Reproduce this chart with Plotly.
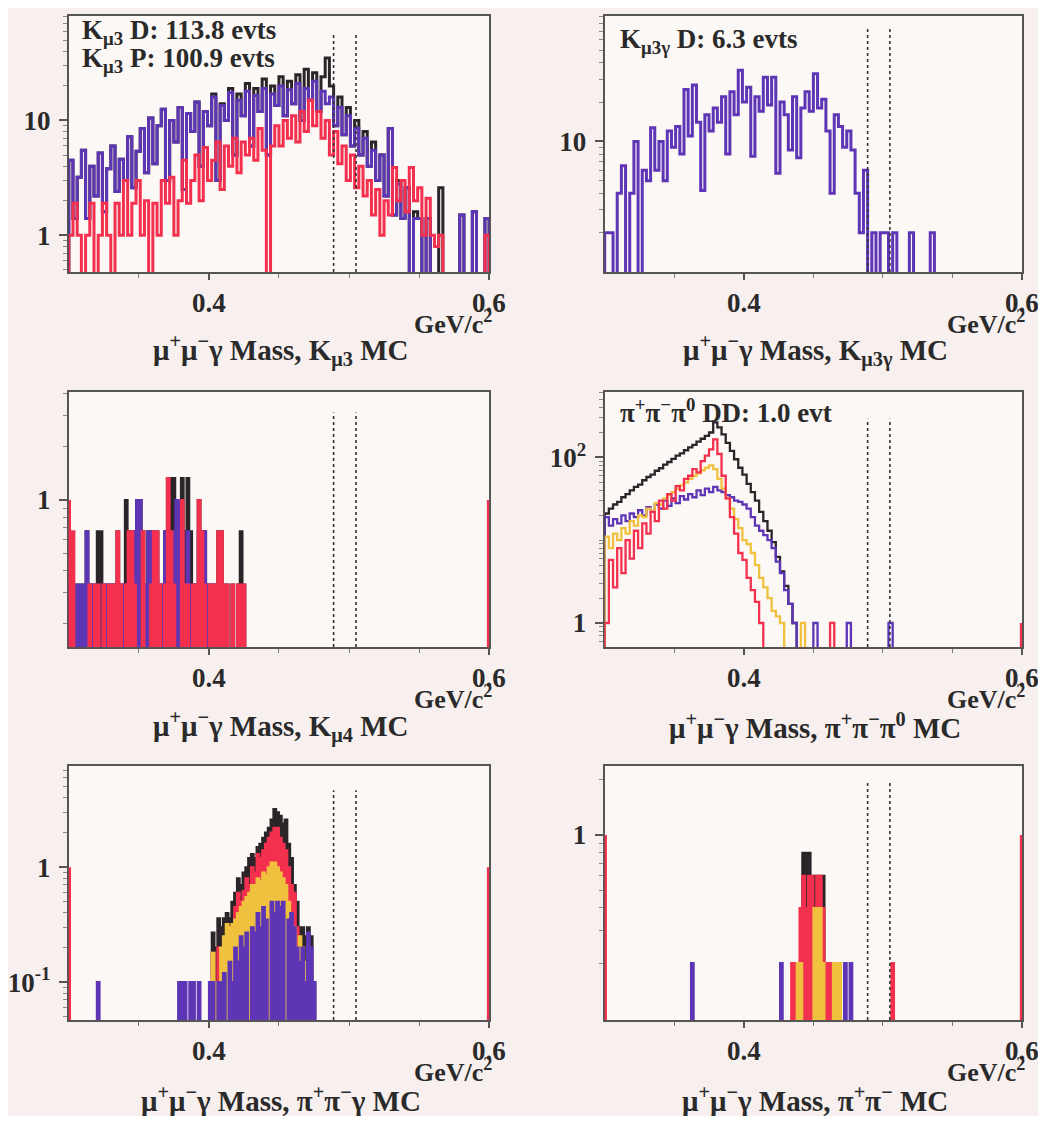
import plotly.graph_objects as go

PAGE_W, PAGE_H = 1046, 1124
BODY_MARGIN = 8                     # default page margin around the figure
W, H = PAGE_W - 2 * BODY_MARGIN, PAGE_H - 2 * BODY_MARGIN
X_LO, X_HI = 0.3, 0.6
FLOOR = 1e-6

C_BLACK = "#2b2428"
C_PURPLE = "#5d35b5"
C_RED = "#f4304f"
C_YELLOW = "#efc13e"
FONT = "Liberation Serif"
TXT = "#2a2a2a"

# ---------------- data ----------------
signal_window = [0.489, 0.505]
x_tick_vals = [0.4, 0.6]
x_tick_text = ["0.4", "0.6"]

# Panel 1 : K_mu3 MC  (bin width 0.003 from 0.300)
p1_width = 0.003
p1_black = [4.5, 1.4, 3.2, 5.5, 1.4, 4.0, 2.2, 5.2, 1.6, 3.8,
            6.0, 2.4, 4.6, 3.0, 7.2, 2.6, 5.4, 8.5, 3.5, 10.5,
            4.2, 9.0, 12.5, 3.0, 10.0, 6.5, 13.0, 2.5, 11.5, 8.0,
            14.5, 4.0, 12.0, 9.0, 17.0, 3.0, 14.0, 10.0, 19.0, 5.0,
            17.0, 11.0, 21.0, 6.0, 19.0, 12.0, 23.0, 5.0, 20.0, 13.5,
            24.0, 11.0, 22.0, 14.0, 25.0, 10.0, 28.0, 15.0, 26.0, 12.0,
            24.0, 35.0, 20.0, 9.0, 16.0, 7.5, 13.0, 6.0, 10.0, 5.0,
            8.0, 4.0, 6.5, 3.0, 5.0, 2.2, 8.5, 1.5, 3.0, 1.4,
            2.6, 0, 1.6, 1.4, 0, 1.4, 0, 0, 2.6, 0,
            0, 0, 0, 1.5, 0, 0, 1.6, 0, 0, 1.4]
p1_purple = [4.5, 1.4, 3.2, 5.5, 1.4, 4.0, 2.2, 5.2, 1.6, 3.8,
             6.0, 2.4, 4.6, 3.0, 7.2, 2.6, 5.4, 8.5, 3.5, 10.5,
             4.2, 9.0, 12.5, 3.0, 10.0, 6.5, 13.0, 2.5, 11.5, 8.0,
             14.5, 4.0, 12.0, 9.0, 16.0, 3.0, 13.5, 10.0, 17.5, 5.0,
             15.0, 11.0, 18.0, 6.0, 16.5, 12.0, 19.0, 5.0, 17.0, 13.5,
             20.0, 11.0, 18.5, 14.0, 21.0, 10.0, 19.0, 15.0, 22.0, 12.0,
             18.0, 14.0, 16.0, 9.0, 13.0, 7.5, 11.0, 6.0, 8.5, 5.0,
             7.0, 4.0, 5.5, 3.0, 5.0, 2.2, 8.5, 1.5, 2.8, 1.4,
             2.6, 0, 1.4, 1.4, 0, 1.4, 0, 0, 0, 0,
             0, 0, 0, 1.5, 0, 0, 1.6, 0, 0, 1.4]
p1_red = [1.0, 1.9, 1.0, 0, 1.0, 1.9, 0, 1.0, 1.9, 1.0,
          0, 1.9, 1.0, 3.0, 1.0, 1.9, 3.0, 1.0, 2.0, 0,
          1.9, 1.0, 3.0, 1.9, 3.2, 1.0, 2.0, 4.5, 1.9, 3.0,
          5.0, 2.0, 5.8, 3.0, 4.5, 6.5, 2.5, 6.0, 4.0, 7.0,
          3.5, 6.5, 5.0, 7.0, 4.5, 8.5, 5.5, 0, 6.0, 9.0,
          6.0, 10.0, 7.0, 11.0, 6.5, 12.0, 8.0, 15.0, 9.0, 12.0,
          7.0, 10.0, 5.0, 8.0, 4.2, 6.0, 3.0, 5.0, 2.6, 4.0,
          2.2, 3.0, 1.5, 2.5, 1.0, 2.0, 1.5, 3.9, 2.0, 3.0,
          1.6, 3.9, 2.0, 2.6, 1.0, 2.1, 1.0, 0.8, 1.0, 0,
          0, 0, 0, 0, 0, 0, 0, 0, 0, 1.0]

# Panel 2 : K_mu3gamma MC (bin width 0.003 from 0.300)
p2_width = 0.003
p2_purple = [2.0, 2.0, 0, 4.0, 6.5, 0, 4.0, 10.0, 0, 6.0,
             5.0, 12.7, 6.0, 10.0, 5.0, 12.0, 9.0, 13.0, 8.0, 25.0,
             11.0, 27.0, 14.0, 4.2, 16.0, 12.0, 18.0, 14.0, 22.0, 8.0,
             24.0, 16.0, 35.0, 20.0, 26.0, 7.7, 22.0, 17.0, 31.0, 19.0,
             31.0, 5.7, 20.0, 16.0, 8.6, 22.0, 7.5, 18.0, 24.0, 17.0,
             33.0, 18.0, 21.0, 12.0, 4.0, 16.0, 13.0, 9.0, 12.0, 8.6,
             4.0, 2.0, 6.0, 0, 2.0, 0, 2.0, 2.0, 0, 2.0,
             0, 0, 0, 2.0, 0, 0, 0, 0, 2.0]

# Panel 3 : K_mu4 MC (bin width 0.002 from 0.300)
p3_width = 0.002
p3_black = [0.333, 0.333, 0.333, 0.333, 0.333, 0.333, 0.667, 0.333, 0.333, 0.333,
            0.667, 0.667, 0.333, 0.333, 0.333, 0.333, 0.333, 0.667, 0.333, 0.333,
            1.0, 0.667, 0.667, 0.667, 1.0, 1.0, 0.667, 0.333, 0.667, 0.667,
            0.667, 0.667, 0.333, 0.333, 0.667, 1.333, 1.333, 1.333, 1.0, 1.0,
            1.333, 0.667, 1.333, 0.667, 0.333, 0.333, 1.0, 0.667, 0.667, 0.333,
            0.333, 0.333, 0.333, 0.667, 0.667, 0.333, 0.333, 0, 0.333, 0,
            0.333, 0.667, 0.333]
p3_purple = [0.333, 0.333, 0.333, 0.333, 0.333, 0.333, 0.667, 0.333, 0.333, 0.333,
             0.333, 0, 0.333, 0.333, 0.333, 0.333, 0.333, 0.333, 0.333, 0.333,
             0.333, 0.333, 0.333, 0.667, 1.0, 1.0, 0.333, 0.333, 0.667, 0.667,
             0.667, 0.333, 0.333, 0.333, 0.667, 0.333, 0.333, 0.667, 1.0, 1.0,
             0.667, 0.333, 0.667, 0.333, 0.333, 0.333, 0.667, 0.667, 0.667, 0.333,
             0.333, 0.333]
p3_red = [0.667, 0.667, 0, 0, 0, 0, 0, 0.333, 0, 0.333,
          0.333, 0, 0.333, 0, 0.333, 0.333, 0.333, 0.667, 0.333, 0,
          0.333, 0.667, 0.667, 0.333, 0, 0, 0.667, 0, 0, 0.333,
          0.667, 0.667, 0.333, 0, 0.333, 1.333, 0.667, 0.333, 0, 0,
          1.0, 0.333, 0.333, 0, 0.333, 0.333, 1.0, 0.667, 0.333, 0,
          0.333, 0.333, 0.333, 0.667, 0.667, 0.333, 0.333, 0, 0.333, 0,
          0.333, 0.333, 0.333]
p3_red_edges = [1.0, 1.0]

# Panel 4 : pi+pi-pi0 MC (bin width 0.003 from 0.300)
p4_width = 0.003
p4_black = [21, 24, 27, 29, 33, 36, 40, 44, 47, 53,
            58, 62, 69, 74, 82, 88, 96, 105, 112, 122,
            132, 142, 155, 168, 182, 200, 265, 230, 190, 150,
            120, 95, 75, 62, 48, 38, 30, 22, 17, 13,
            9.5, 6.3, 4.2, 2.8, 1.7, 1.0]
p4_purple = [19, 15, 18, 16, 20, 17, 21, 19, 23, 20,
             25, 22, 27, 24, 30, 26, 32, 28, 34, 31,
             36, 33, 40, 35, 42, 38, 44, 40, 38, 35,
             33, 30, 29, 27, 24, 19, 15, 13, 11.5, 10,
             8.0, 5.5, 4.0, 2.5, 1.7, 1.0, 0, 0, 0, 0,
             1.0, 0, 0, 0, 0, 0, 0, 0, 1.0, 0,
             0, 0, 0, 0, 0, 0, 0, 0, 1.0]
p4_red = [1.0, 5.8, 2.7, 8.0, 4.0, 10.0, 6.0, 13.0, 8.0, 16.0,
          12.0, 22.0, 17.0, 30.0, 24.0, 36.0, 30.0, 45.0, 40.0, 55.0,
          60.0, 72.0, 66.0, 90.0, 105.0, 125.0, 165.0, 110.0, 60.0, 32.0,
          19.0, 12.0, 7.0, 5.8, 3.5, 2.5, 1.8, 1.0, 0, 0,
          0, 0, 0, 0, 0, 0, 0, 0, 0, 0,
          0, 0, 0, 0, 1.0]
p4_yellow = [11, 8, 12, 10, 14, 12, 17, 15, 20, 19,
             24, 22, 28, 27, 32, 35, 38, 42, 46, 50,
             55, 60, 64, 70, 75, 80, 72, 55, 42, 32,
             24, 18, 14, 10, 9, 7, 5, 3.5, 2.7, 2.0,
             1.4, 1.2, 1.0, 0, 0, 0, 0, 1.0]
p4_red_edges = [0, 1.0]

# Panel 5 : pi+pi-gamma MC (bin width 0.002)
p5_width = 0.002
p5_purple_start = 0.320
p5_purple = [0.1, 0, 0, 0, 0, 0, 0, 0, 0, 0,
             0, 0, 0, 0, 0, 0, 0, 0, 0, 0,
             0, 0, 0, 0, 0, 0, 0, 0, 0, 0.1,
             0.1, 0.1, 0, 0.1, 0.1, 0, 0.1, 0, 0, 0,
             0.1, 0.1, 0, 0.1, 0.1, 0.12, 0, 0.15, 0.1, 0.2,
             0.15, 0.25, 0.2, 0.27, 0, 0.3, 0.27, 0.4, 0.3, 0.45,
             0.35, 0, 0.5, 0.4, 0.5, 0.45, 0.5, 0, 0.35, 0.4,
             0.3, 0.2, 0.15, 0.2, 0.1, 0.27, 0.2, 0.1]
p5_start = 0.402
p5_black = [0.27, 0.2, 0.36, 0.3, 0.36, 0.4, 0.36, 0.5, 0.6, 0.8,
            0.7, 0.9, 1.0, 1.2, 1.3, 1.2, 1.5, 1.6, 1.8, 2.0,
            2.2, 2.6, 3.2, 3.0, 2.8, 2.4, 2.6, 1.6, 1.2, 0.7,
            0.5, 0.3, 0.3, 0.25, 0.3, 0.25, 0.1]
p5_red = [0.18, 0.1, 0.2, 0.18, 0.2, 0.2, 0.3, 0.25, 0.45, 0.6,
          0.5, 0.62, 0.8, 0.7, 1.0, 0.9, 1.3, 1.2, 1.4, 1.6,
          1.8, 2.0, 2.2, 2.2, 1.8, 1.6, 1.4, 1.0, 0.7, 0.6,
          0.3, 0.18, 0.1, 0, 0.1]
p5_yellow = [0.18, 0.1, 0, 0.2, 0.25, 0.32, 0.3, 0.32, 0.35, 0.4,
             0.45, 0.5, 0.55, 0.6, 0.7, 0.7, 0.8, 0.75, 0.9, 0.85,
             1.0, 1.1, 1.1, 1.0, 0.9, 0.8, 0.7, 0.5, 0.4, 0.3,
             0.2, 0.25, 0.2, 0.15, 0.2, 0.1]
p5_red_edges = [1.0, 1.0]

# Panel 6 : pi+pi- MC (weighted entries, bin width 0.002)
p6_width = 0.002
p6_purple_mass = [0.363, 0.427, 0.473, 0.477]
p6_purple_w = [0.2, 0.2, 0.2, 0.2]
p6_black_mass = [0.443, 0.445, 0.447, 0.449, 0.451, 0.453, 0.455, 0.457, 0.459]
p6_black_w = [0.8, 0.8, 0.8, 0.6, 0.6, 0.6, 0.6, 0.6, 0.2]
p6_red_mass = [0.435, 0.437, 0.441, 0.443, 0.445, 0.447, 0.449, 0.451,
               0.453, 0.455, 0.457, 0.459, 0.461, 0.463, 0.507]
p6_red_w = [0.2, 0.2, 0.4, 0.6, 0.4, 0.6, 0.6, 0.2, 0.6, 0.6, 0.4, 0.2, 0.2, 0.2, 0.2]
p6_yellow_mass = [0.439, 0.441, 0.451, 0.453, 0.455, 0.457, 0.465, 0.467, 0.469]
p6_yellow_w = [0.2, 0.2, 0.4, 0.4, 0.4, 0.2, 0.2, 0.2, 0.2]
p6_red_edges = [1.0, 1.0]


# ---------------- helpers ----------------
def fill_hist(masses, weights, width):
    n = int(round((X_HI - X_LO) / width))
    vals = [0.0] * n
    for m, w in zip(masses, weights):
        vals[int((m - X_LO) / width)] += w
    return vals


def step_xy(values, width, start=X_LO):
    edges = [start + width * i for i in range(len(values) + 1)]
    ys = [v if v > 0 else FLOOR for v in values]
    x = [edges[0]] + edges[:-1] + [edges[-1], edges[-1]]
    y = [FLOOR] + ys + [ys[-1], FLOOR]
    return x, y


def px(x):   # page pixel -> paper fraction
    return (x - BODY_MARGIN) / W


def py(y):
    return 1 - (y - BODY_MARGIN) / H


cols = [(65, 487), (603, 1022)]
rows = [(16, 272), (392, 647), (766, 1020)]

panels = [
    dict(col=0, row=0, yr=[-0.32, 1.91], tv=[1, 10], tt=["1", "10"],
         minor=[0.5, 0.6, 0.7, 0.8, 0.9, 2, 3, 4, 5, 6, 7, 8, 9, 20, 30, 40, 50, 60, 70, 80],
         series=[(C_BLACK, X_LO, p1_width, p1_black), (C_PURPLE, X_LO, p1_width, p1_purple),
                 (C_RED, X_LO, p1_width, p1_red)],
         filled=False, lw=3.0, edges=None, cut_top=0.935,
         title="μ<sup>+</sup>μ<sup>−</sup>γ Mass, K<sub>μ3</sub> MC",
         labels=[("K<sub>μ3</sub> D: 113.8 evts", 76, 32), ("K<sub>μ3</sub> P: 100.9 evts", 76, 60)]),
    dict(col=1, row=0, yr=[0.0, 1.96], tv=[10], tt=["10"],
         minor=[2, 3, 4, 5, 6, 7, 8, 9, 20, 30, 40, 50, 60, 70, 80, 90],
         series=[(C_PURPLE, X_LO, p2_width, p2_purple)],
         filled=False, lw=3.0, edges=None, cut_top=0.95,
         title="μ<sup>+</sup>μ<sup>−</sup>γ Mass, K<sub>μ3γ</sub> MC",
         labels=[("K<sub>μ3γ</sub> D: 6.3 evts", 616, 41)]),
    dict(col=0, row=1, yr=[-0.83, 0.61], tv=[1], tt=["1"],
         minor=[0.2, 0.3, 0.4, 0.5, 0.6, 0.7, 0.8, 0.9, 2, 3, 4],
         series=[(C_BLACK, X_LO, p3_width, p3_black), (C_PURPLE, X_LO, p3_width, p3_purple),
                 (C_RED, X_LO, p3_width, p3_red)],
         filled=True, lw=2.0, edges=p3_red_edges, cut_top=0.92,
         title="μ<sup>+</sup>μ<sup>−</sup>γ Mass, K<sub>μ4</sub> MC",
         labels=[]),
    dict(col=1, row=1, yr=[-0.29, 2.79], tv=[1, 100], tt=["1", "10<sup>2</sup>"],
         minor=[0.6, 0.7, 0.8, 0.9, 2, 3, 4, 5, 6, 7, 8, 9, 10, 20, 30, 40, 50, 60, 70, 80, 90,
                200, 300, 400, 500, 600],
         series=[(C_BLACK, X_LO, p4_width, p4_black), (C_PURPLE, X_LO, p4_width, p4_purple),
                 (C_YELLOW, X_LO, p4_width, p4_yellow), (C_RED, X_LO, p4_width, p4_red)],
         filled=False, lw=2.3, edges=p4_red_edges, cut_top=0.895,
         title="μ<sup>+</sup>μ<sup>−</sup>γ Mass, π<sup>+</sup>π<sup>−</sup>π<sup>0</sup> MC",
         labels=[("π<sup>+</sup>π<sup>−</sup>π<sup>0</sup> DD: 1.0 evt", 616, 411)]),
    dict(col=0, row=2, yr=[-1.33, 0.88], tv=[0.1, 1], tt=["10<sup>-1</sup>", "1"],
         minor=[0.05, 0.06, 0.07, 0.08, 0.09, 0.2, 0.3, 0.4, 0.5, 0.6, 0.7, 0.8, 0.9,
                2, 3, 4, 5, 6, 7],
         series=[(C_BLACK, p5_start, p5_width, p5_black),
                 (C_RED, p5_start, p5_width, p5_red),
                 (C_YELLOW, p5_start, p5_width, p5_yellow),
                 (C_PURPLE, p5_purple_start, p5_width, p5_purple)],
         filled=True, lw=2.0, edges=p5_red_edges, cut_top=0.905,
         title="μ<sup>+</sup>μ<sup>−</sup>γ Mass, π<sup>+</sup>π<sup>−</sup>γ MC",
         labels=[]),
    dict(col=1, row=2, yr=[-1.01, 0.377], tv=[1], tt=["1"],
         minor=[0.2, 0.3, 0.4, 0.5, 0.6, 0.7, 0.8, 0.9, 2],
         series=[(C_BLACK, X_LO, p6_width, fill_hist(p6_black_mass, p6_black_w, p6_width)),
                 (C_RED, X_LO, p6_width, fill_hist(p6_red_mass, p6_red_w, p6_width)),
                 (C_YELLOW, X_LO, p6_width, fill_hist(p6_yellow_mass, p6_yellow_w, p6_width)),
                 (C_PURPLE, X_LO, p6_width, fill_hist(p6_purple_mass, p6_purple_w, p6_width))],
         filled=True, lw=2.0, edges=p6_red_edges, cut_top=0.94,
         title="μ<sup>+</sup>μ<sup>−</sup>γ Mass, π<sup>+</sup>π<sup>−</sup> MC",
         labels=[]),
]

fig = go.Figure()
layout = dict(
    width=W, height=H, margin=dict(l=0, r=0, t=0, b=0),
    paper_bgcolor="#f7f0ee", plot_bgcolor="#fcf8f6",
    showlegend=False, annotations=[], shapes=[],
)

tickfont = dict(family=FONT, size=27, color=TXT, weight="bold")

for i, p in enumerate(panels, start=1):
    xa = "x" if i == 1 else f"x{i}"
    ya = "y" if i == 1 else f"y{i}"
    x0, x1 = cols[p["col"]]
    y0, y1 = rows[p["row"]]
    layout[f"xaxis{i}"] = dict(
        domain=[px(x0), px(x1)], anchor=ya, range=[X_LO, X_HI],
        tickmode="array", tickvals=x_tick_vals, showticklabels=False,
        ticks="outside", ticklen=6, tickwidth=1.5, tickcolor="#555",
        minor=dict(tickmode="array", tickvals=[0.35, 0.45, 0.5, 0.55], ticks="outside",
                   ticklen=4, tickwidth=1, tickcolor="#777", showgrid=False),
        showgrid=False, zeroline=False, showline=True, mirror=True,
        linecolor="#555", linewidth=2, layer="below traces",
    )
    layout[f"yaxis{i}"] = dict(
        domain=[py(y1), py(y0)], anchor=xa, type="log", range=p["yr"],
        tickmode="array", tickvals=p["tv"], ticktext=p["tt"],
        ticks="outside", ticklen=8, tickwidth=1.5, tickcolor="#555",
        minor=dict(tickmode="array", tickvals=p["minor"], ticks="outside",
                   ticklen=4, tickwidth=1, tickcolor="#888", showgrid=False),
        showgrid=False, zeroline=False, showline=True, mirror=True,
        linecolor="#555", linewidth=2, tickfont=tickfont, ticklabelstandoff=3,
        layer="below traces",
    )
    for color, start, width, vals in p["series"]:
        sx, sy = step_xy(vals, width, start)
        kw = dict(fill="toself", fillcolor=color) if p["filled"] else {}
        fig.add_trace(go.Scatter(x=sx, y=sy, mode="lines", xaxis=xa, yaxis=ya,
                                 line=dict(color=color, width=p["lw"], shape="hv"),
                                 hoverinfo="skip", **kw))
    if p["edges"]:
        for xe, lev in zip([X_LO, X_HI], p["edges"]):
            if lev > 0:
                fig.add_trace(go.Scatter(x=[xe, xe], y=[FLOOR, lev], mode="lines",
                                         xaxis=xa, yaxis=ya,
                                         line=dict(color=C_RED, width=4.5),
                                         hoverinfo="skip"))
    for xc in signal_window:
        layout["shapes"].append(dict(
            type="line", xref=xa, yref=f"{ya} domain", x0=xc, x1=xc, y0=0, y1=p["cut_top"],
            line=dict(color="#333", width=1.6, dash="dot")))
    # x tick labels (placed just below the frame)
    for tv, tt in zip(x_tick_vals, x_tick_text):
        layout["annotations"].append(dict(
            text=tt, x=tv, xref=xa, y=py(y1 + 31), yref="paper",
            xanchor="center", yanchor="middle", showarrow=False,
            font=tickfont))
    # units
    layout["annotations"].append(dict(
        text="GeV/c<sup>2</sup>", x=px(x1 + 5), y=py(y1 + 50), xref="paper", yref="paper",
        xanchor="right", yanchor="middle", showarrow=False,
        font=dict(family=FONT, size=26, color=TXT, weight="bold")))
    # axis title
    layout["annotations"].append(dict(
        text=p["title"], x=px((x0 + x1) / 2 + 2), y=py(y1 + 79), xref="paper", yref="paper",
        xanchor="center", yanchor="middle", showarrow=False,
        font=dict(family=FONT, size=29, color=TXT, weight="bold")))
    for txt, lx, ly in p["labels"]:
        layout["annotations"].append(dict(
            text=txt, x=px(lx), y=py(ly), xref="paper", yref="paper",
            xanchor="left", yanchor="middle", showarrow=False,
            font=dict(family=FONT, size=27, color=TXT, weight="bold")))

fig.update_layout(**layout)
fig.write_html("out.html")
